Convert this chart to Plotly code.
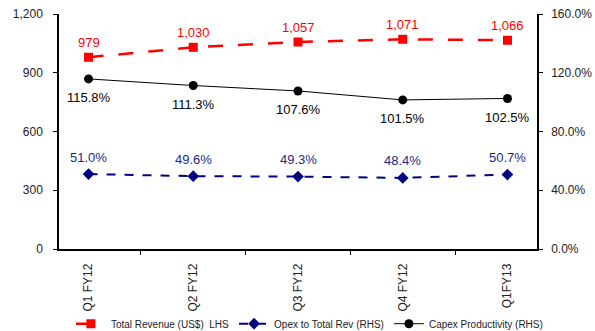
import plotly.graph_objects as go

categories = ["Q1 FY12", "Q2 FY12", "Q3 FY12", "Q4 FY12", "Q1FY13"]
revenue = [979, 1030, 1057, 1071, 1066]
opex_ratio = [0.510, 0.496, 0.493, 0.484, 0.507]
capex_prod = [1.158, 1.113, 1.076, 1.015, 1.025]

RED = "#FF0000"
NAVY = "#000080"
NAVY_TXT = "#1F1F8C"
FONT = "Liberation Sans, Arial, sans-serif"

fig = go.Figure()
fig.add_trace(go.Scatter(
    x=categories, y=revenue, name="Total Revenue (US$)  LHS",
    mode="lines+markers",
    line=dict(color=RED, width=2.5, dash="longdash"),
    marker=dict(symbol="square", size=9, color=RED),
))
fig.add_trace(go.Scatter(
    x=categories, y=opex_ratio, name="Opex to Total Rev (RHS)", yaxis="y2",
    mode="lines+markers",
    line=dict(color=NAVY, width=2, dash="dash"),
    marker=dict(symbol="diamond", size=9, color=NAVY),
))
fig.add_trace(go.Scatter(
    x=categories, y=capex_prod, name="Capex Productivity (RHS)", yaxis="y2",
    mode="lines+markers",
    line=dict(color="black", width=1),
    marker=dict(symbol="circle", size=9, color="black"),
))

annotations = []
for c, v in zip(categories, revenue):
    annotations.append(dict(x=c, y=v, xref="x", yref="y", text=f"{v:,}",
                            showarrow=False, yshift=15,
                            font=dict(color=RED, size=13, family=FONT)))
for c, v in zip(categories, opex_ratio):
    annotations.append(dict(x=c, y=v, xref="x", yref="y2", text=f"{v*100:.1f}%",
                            showarrow=False, yshift=17,
                            font=dict(color=NAVY_TXT, size=13, family=FONT)))
for c, v in zip(categories, capex_prod):
    annotations.append(dict(x=c, y=v, xref="x", yref="y2", text=f"{v*100:.1f}%",
                            showarrow=False, yshift=-19,
                            font=dict(color="black", size=13, family=FONT)))

fig.update_layout(
    width=595, height=331,
    margin=dict(l=59, r=58, t=14, b=82, autoexpand=False),
    paper_bgcolor="white", plot_bgcolor="white",
    font=dict(family=FONT, size=12, color="#222222"),
    showlegend=True,
    legend=dict(orientation="h", x=0.52, xanchor="center", xref="container",
                y=0.022, yanchor="middle", yref="container",
                bgcolor="rgba(0,0,0,0)",
                font=dict(size=10, color="#222222"), itemwidth=30,
                tracegroupgap=0),
    annotations=annotations,
    xaxis=dict(type="category", showline=True, linecolor="black", linewidth=1.5,
               ticks="outside", tickson="boundaries", ticklen=4, tickcolor="black",
               tickangle=-90, showgrid=False, zeroline=False, automargin=False,
               ticklabelstandoff=8, tickfont=dict(size=12)),
    yaxis=dict(range=[0, 1200], dtick=300, tickformat=",", showline=True,
               linecolor="black", linewidth=1.5, ticks="outside", ticklen=4,
               tickcolor="black", showgrid=False, zeroline=False, automargin=False,
               ticklabelstandoff=8, tickfont=dict(size=12)),
    yaxis2=dict(range=[0, 1.6], dtick=0.4, tickformat=".1%", overlaying="y",
                side="right", showline=True, linecolor="black", linewidth=1.5,
                ticks="outside", ticklen=4, tickcolor="black", showgrid=False,
                zeroline=False, automargin=False, ticklabelstandoff=6,
                tickfont=dict(size=12)),
)

fig.write_html("out.html")
